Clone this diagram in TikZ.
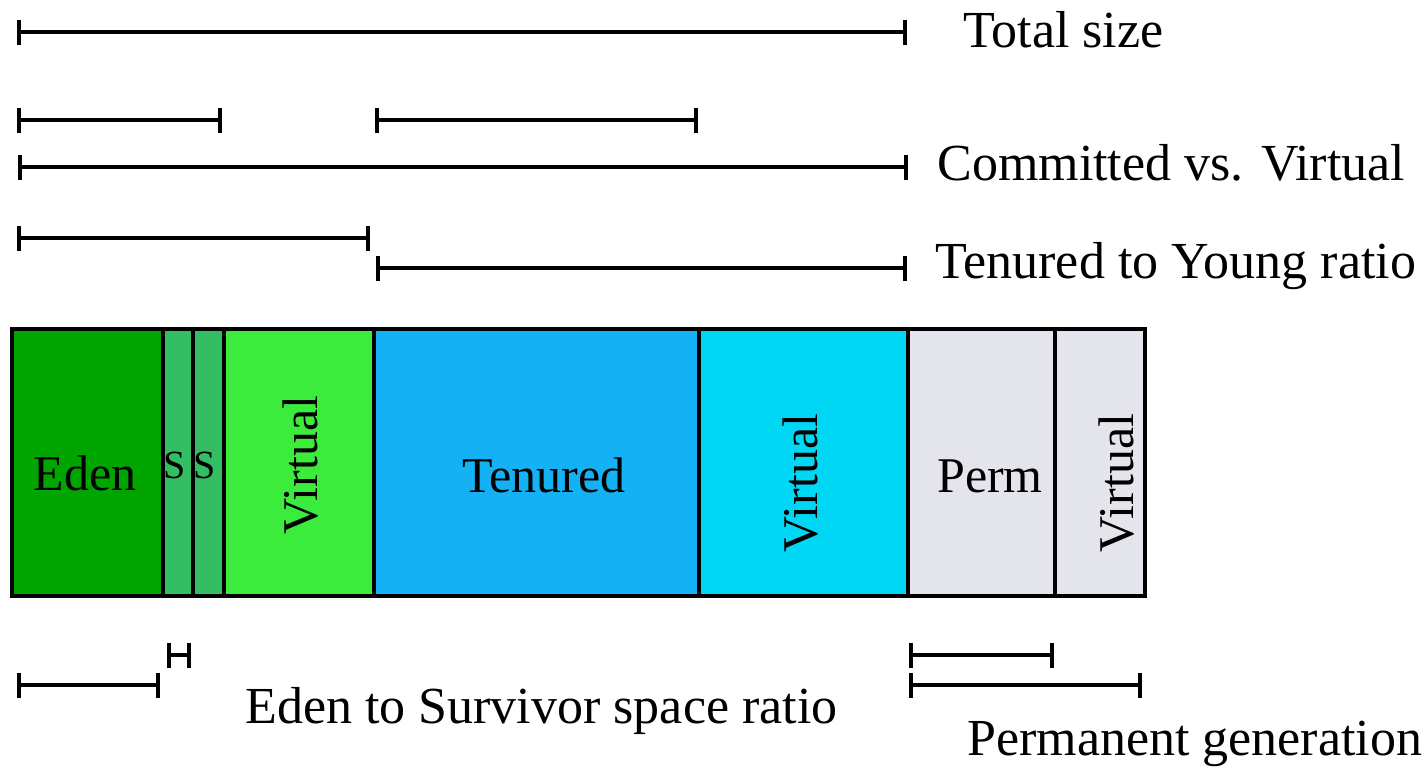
\documentclass[tikz,border=0pt]{standalone}
\usepackage{fontspec}
\setmainfont{Liberation Serif}
\usetikzlibrary{arrows.meta,fit}
\definecolor{edenc}{RGB}{0,165,0}
\definecolor{survc}{RGB}{52,190,100}
\definecolor{vgreen}{RGB}{60,236,60}
\definecolor{tenc}{RGB}{20,178,245}
\definecolor{vcyan}{RGB}{0,215,245}
\definecolor{permc}{RGB}{228,228,236}
\begin{document}
\begin{tikzpicture}[x=0.5pt,y=-0.5pt,
  dimline/.style={line width=2pt,{Bar[width=12.5pt]}-{Bar[width=12.5pt]}},
  cell/.style={draw=black,line width=2pt,inner sep=0pt},
  lab/.style={font=\fontsize{26pt}{30pt}\selectfont,anchor=base west,inner sep=0pt},
  inlab/.style={font=\fontsize{25pt}{30pt}\selectfont,anchor=base,inner sep=0pt},
  slab/.style={font=\fontsize{20pt}{22pt}\selectfont,anchor=base,inner sep=0pt},
]
\useasboundingbox (0,0) rectangle (1426,767);
\fill[white] (0,0) rectangle (1426,767);

% dimension line end points
\coordinate (a1) at (17,32);  \coordinate (a2) at (907,32);
\coordinate (b1) at (17,120); \coordinate (b2) at (222,120);
\coordinate (c1) at (375,120); \coordinate (c2) at (698,120);
\coordinate (d1) at (18,167); \coordinate (d2) at (908,167);
\coordinate (e1) at (17,238); \coordinate (e2) at (370,238);
\coordinate (f1) at (376,268); \coordinate (f2) at (907,268);
\coordinate (g1) at (167,655); \coordinate (g2) at (191,655);
\coordinate (h1) at (17,685); \coordinate (h2) at (160,685);
\coordinate (i1) at (909,655); \coordinate (i2) at (1054,655);
\coordinate (j1) at (909,685); \coordinate (j2) at (1142,685);

\draw[dimline] (a1) -- (a2);
\draw[dimline] (b1) -- (b2);
\draw[dimline] (c1) -- (c2);
\draw[dimline] (d1) -- (d2);
\draw[dimline] (e1) -- (e2);
\draw[dimline] (f1) -- (f2);
\draw[dimline] (g1) -- (g2);
\draw[dimline] (h1) -- (h2);
\draw[dimline] (i1) -- (i2);
\draw[dimline] (j1) -- (j2);

% heap cells
\node[cell,fill=edenc,fit={(12,329) (163,596)}] (eden) {};
\node[cell,fill=survc,fit={(163,329) (193,596)}] (s1) {};
\node[cell,fill=survc,fit={(193,329) (224,596)}] (s2) {};
\node[cell,fill=vgreen,fit={(224,329) (374,596)}] (vy) {};
\node[cell,fill=tenc,fit={(374,329) (699,596)}] (ten) {};
\node[cell,fill=vcyan,fit={(699,329) (908,596)}] (vt) {};
\node[cell,fill=permc,fit={(908,329) (1055,596)}] (perm) {};
\node[cell,fill=permc,fit={(1055,329) (1145,596)}] (vp) {};

% cell labels
\node[inlab] (teden) at (85,490) {Eden};
\node[slab] (ts1) at (175,478) {S};
\node[slab] (ts2) at (205,478) {S};
\node[inlab,rotate=90] (tvy) at (317,465) {Virtual};
\node[inlab] (tten) at (544,492) {Tenured};
\node[inlab,rotate=90] (tvt) at (817,483) {Virtual};
\node[inlab] (tperm) at (990,492) {Perm};
\node[inlab,rotate=90] (tvp) at (1133,483) {Virtual};

% side labels
\node[lab] (ltotal) at (963,47) {Total size};
\node[lab] (lcomm) at (937,180) {Committed vs. Virtual};
\node[lab] (lten) at (935,278) {Tenured to Young ratio};
\node[lab] (leden) at (245,723) {Eden to Survivor space ratio};
\node[lab] (lperm) at (967,755) {Permanent generation};
\end{tikzpicture}
\end{document}
